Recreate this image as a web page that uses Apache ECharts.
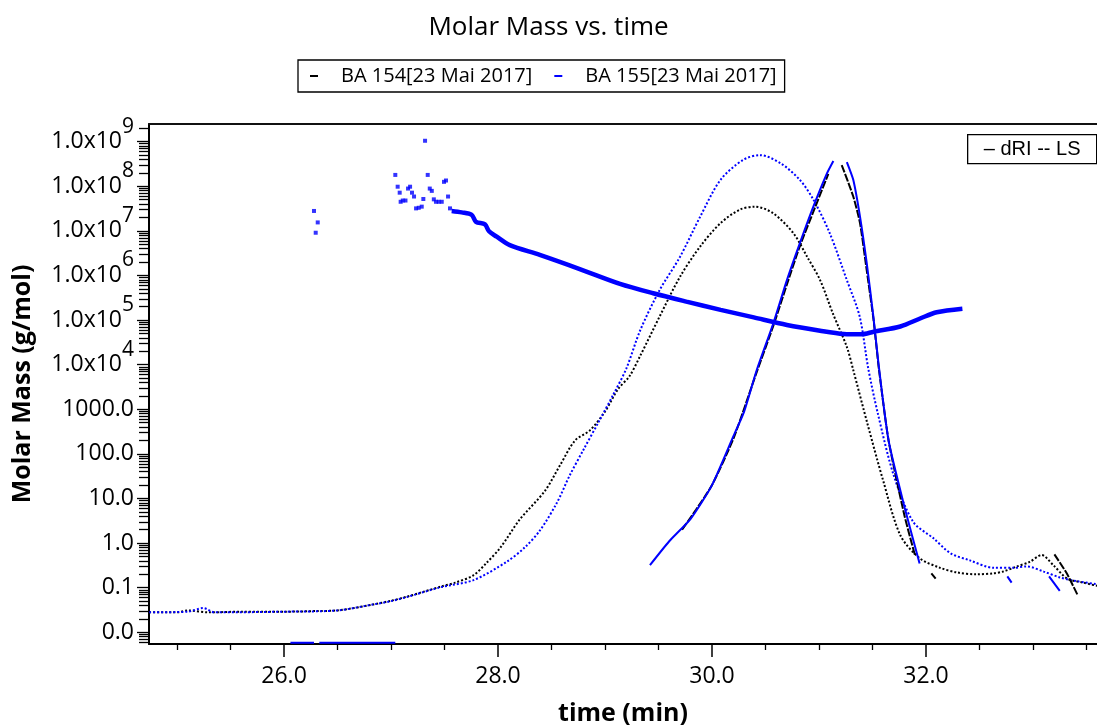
<!DOCTYPE html>
<html>
<head>
<meta charset="utf-8">
<script src="https://cdn.jsdelivr.net/npm/echarts@6/dist/echarts.min.js"></script>
<style>html,body{margin:0;padding:0;background:#fff}#c{width:1097px;height:726px}</style>
</head>
<body>
<div id="c"></div>
<script>
// ---------- axes ----------
const xMin = 24.738, xMax = 33.598;
const yMinLog = -2.262, yMaxLog = 9.397;           // log10 of axis range (g/mol)
const xMajorTicks = [26, 28, 30, 32];
const xMinorTicks = [25, 25.5, 26.5, 27, 27.5, 28.5, 29, 29.5, 30.5, 31, 31.5, 32.5, 33, 33.5];
const yDecades = [-2, -1, 0, 1, 2, 3, 4, 5, 6, 7, 8, 9];

const title = 'Molar Mass vs. time';
const seriesNames = ['BA 154[23 Mai 2017]', 'BA 155[23 Mai 2017]'];

// ---------- data (time in min, values in g/mol) ----------
// dRI trace BA 154 (black dotted)
const dri154T = [24.74, 25.0, 25.1, 25.3, 25.6, 26.0, 26.3, 26.5, 26.83, 27.0, 27.15, 27.46, 27.6, 27.77, 27.89, 28.02, 28.2, 28.44, 28.58, 28.72, 28.86, 29.0, 29.12, 29.23, 29.33, 29.51, 29.7, 29.89, 30.08, 30.26, 30.4, 30.57, 30.76, 30.89, 31.01, 31.13, 31.26, 31.32, 31.45, 31.6, 31.76, 31.94, 32.13, 32.29, 32.47, 32.63, 32.72, 32.85, 32.97, 33.08, 33.19, 33.32, 33.47, 33.6];
const dri154V = [0.028, 0.028, 0.031, 0.028, 0.029, 0.029, 0.030, 0.031, 0.042, 0.051, 0.063, 0.105, 0.13, 0.19, 0.355, 0.78, 3.3, 15, 56, 200, 340, 890, 2800, 5600, 16000, 1.2e5, 9.3e5, 4.5e6, 1.5e7, 3.0e7, 3.5e7, 2.5e7, 8.9e6, 2.6e6, 7.9e5, 1.4e5, 2.5e4, 7600, 500, 25, 1.5, 0.46, 0.28, 0.22, 0.20, 0.21, 0.23, 0.30, 0.38, 0.54, 0.32, 0.16, 0.13, 0.11];
// dRI trace BA 155 (blue dotted)
const dri155T = [24.74, 25.1, 25.245, 25.35, 26.0, 26.5, 26.83, 27.0, 27.15, 27.46, 27.77, 28.08, 28.25, 28.39, 28.55, 28.67, 28.8, 28.95, 29.08, 29.2, 29.33, 29.51, 29.7, 29.89, 30.08, 30.29, 30.45, 30.64, 30.82, 30.95, 31.1, 31.26, 31.38, 31.46, 31.55, 31.7, 31.88, 32.07, 32.23, 32.41, 32.63, 32.82, 32.94, 33.1, 33.25, 33.41, 33.6];
const dri155V = [0.028, 0.029, 0.035, 0.028, 0.029, 0.031, 0.042, 0.05, 0.062, 0.102, 0.148, 0.38, 0.8, 1.9, 8, 33, 126, 575, 2200, 8300, 6.0e4, 4.7e5, 2.6e6, 2.1e7, 1.4e8, 3.9e8, 5.0e8, 3.3e8, 1.4e8, 4.9e7, 8.9e6, 7.9e5, 1.2e5, 8300, 800, 32, 3.0, 1.28, 0.59, 0.41, 0.28, 0.28, 0.30, 0.23, 0.17, 0.14, 0.12];
// LS trace BA 154 (black), null = gap
const ls154T = [29.72, 29.85, 30.0, 30.2, 30.42, 30.57, 30.7, 30.82, 30.95, 31.087, 31.15, 31.212, 31.32, 31.383, 31.446, 31.51, 31.56, 31.65, 31.8, 31.9, 31.98, 32.05, 32.09, 32.5, 33.2, 33.315, 33.42];
const ls154V = [2.0, 5.6, 20, 220, 7100, 7.1e4, 6.3e5, 4.5e6, 2.8e7, 1.9e8, null, 3.0e8, 5.9e7, 1.5e7, 1.3e6, 1.0e5, 7900, 200, 4.0, 0.5, null, 0.21, 0.16, null, 0.56, 0.21, 0.066];
// LS trace BA 155 (blue), null = gap
const ls155T = [29.42, 29.6, 29.8, 30.0, 30.2, 30.3, 30.418, 30.573, 30.7, 30.822, 30.947, 31.072, 31.134, 31.2, 31.26, 31.32, 31.383, 31.446, 31.508, 31.555, 31.65, 31.8, 31.94, 32.3, 32.76, 32.8, 33.0, 33.15, 33.25];
const ls155V = [0.32, 1.1, 3.5, 20, 250, 890, 7600, 8.5e4, 7.9e5, 5.4e6, 3.5e7, 1.9e8, 3.7e8, null, 3.5e8, 1.4e8, 2.1e7, 1.9e6, 1.2e5, 1.1e4, 200, 6.3, 0.35, null, 0.18, 0.13, null, 0.18, 0.085];
// Molar mass BA 155, continuous part (blue squares)
const mm155T = [27.567, 27.66, 27.754, 27.794, 27.878, 27.916, 27.988, 28.11, 28.39, 28.77, 29.14, 29.45, 29.76, 30.08, 30.39, 30.70, 31.01, 31.23, 31.40, 31.51, 31.76, 31.95, 32.1, 32.34];
const mm155V = [2.8e7, 2.6e7, 2.3e7, 1.6e7, 1.4e7, 9.8e6, 7.4e6, 4.8e6, 2.9e6, 1.38e6, 6.5e5, 4.0e5, 2.6e5, 1.7e5, 1.15e5, 7.8e4, 5.8e4, 4.9e4, 4.8e4, 5.5e4, 7.2e4, 1.1e5, 1.5e5, 1.8e5];
// Molar mass BA 155, scattered early points
const mmScatT = [26.280, 26.296, 26.315, 27.04, 27.062, 27.081, 27.09, 27.11, 27.135, 27.159, 27.178, 27.196, 27.215, 27.234, 27.259, 27.287, 27.302, 27.318, 27.343, 27.362, 27.381, 27.40, 27.42, 27.446, 27.474, 27.495, 27.514, 27.533, 27.551];
const mmScatV = [2.8e7, 9.1e6, 1.55e7, 1.8e8, 9.8e7, 7.2e7, 4.5e7, 4.8e7, 4.8e7, 8.9e7, 9.8e7, 7.2e7, 5.9e7, 3.2e7, 3.3e7, 3.5e7, 5.2e7, 1.05e9, 1.8e8, 8.9e7, 7.9e7, 5.1e7, 4.5e7, 4.5e7, 4.5e7, 1.26e8, 1.35e8, 5.9e7, 3.2e7];
// Molar mass values below axis floor (drawn at the floor)
const mmLowT = [26.06, 26.28, null, 26.33, 27.04];
const mmLowV = [0.0058, 0.0058, null, 0.0058, 0.0058];

// ---------- helpers ----------
const toPts = (ts, vs) => ts.map((t, i) => (vs[i] == null || t == null) ? [t == null ? (ts[i-1] + 0.001) : t, '-'] : [t, Math.log10(vs[i])]);

const yMinorTicks = [];
for (let n = -3; n <= 9; n++) {
  for (let k = 2; k <= 9; k++) {
    const v = n + Math.log10(k);
    if (v > yMinLog && v < yMaxLog) yMinorTicks.push(v);
  }
}

const FONT = 'Open Sans';
const fmtY = v => {
  const n = Math.round(v);
  if (n <= 3) return Math.pow(10, n).toFixed(1);
  return '{b|1.0x10}{s|' + n + '}';
};

const chart = echarts.init(document.getElementById('c'), null, {renderer: 'canvas'});
const BLUE = '#0000ff', BLACK = '#000000';

chart.setOption({
  animation: false,
  backgroundColor: '#ffffff',
  title: {
    text: title, left: 'center', top: 10,
    textStyle: {fontFamily: FONT, fontSize: 26, fontWeight: 'normal', color: '#000'}
  },
  legend: {
    top: 60, left: 298, orient: 'horizontal',
    padding: [6, 8, 6, 12], borderColor: '#000', borderWidth: 1.3,
    itemWidth: 8, itemHeight: 2, itemGap: 22, icon: 'rect', selectedMode: false,
    textStyle: {fontFamily: FONT, fontSize: 20, color: '#000', padding: [0, 0, 0, 18]},
    data: [
      {name: seriesNames[0], itemStyle: {color: BLACK}},
      {name: seriesNames[1], itemStyle: {color: BLUE}}
    ]
  },
  grid: {left: 149, right: 0, top: 124, bottom: 82, containLabel: false, outerBoundsMode: 'none'},
  xAxis: [
    {
      type: 'value', min: xMin, max: xMax, position: 'bottom',
      name: 'time (min)', nameLocation: 'middle', nameGap: 57,
      nameTextStyle: {fontFamily: FONT, fontSize: 25, fontWeight: 'bold', color: '#000'},
      axisLine: {show: true, onZero: false, lineStyle: {color: '#000', width: 2}},
      axisTick: {show: true, customValues: xMajorTicks, length: 13, lineStyle: {color: '#000', width: 1.5}},
      axisLabel: {show: true, customValues: xMajorTicks, margin: 21, formatter: v => v.toFixed(1),
        fontFamily: FONT, fontSize: 23, color: '#000'},
      splitLine: {show: false}
    },
    {
      type: 'value', min: xMin, max: xMax, position: 'bottom',
      axisLine: {show: false, onZero: false},
      axisTick: {show: true, customValues: xMinorTicks, length: 6, lineStyle: {color: '#000', width: 1.3}},
      axisLabel: {show: false}, splitLine: {show: false}
    },
    {
      type: 'value', min: xMin, max: xMax, position: 'top',
      axisLine: {show: true, onZero: false, lineStyle: {color: '#111', width: 2}},
      axisTick: {show: false}, axisLabel: {show: false}, splitLine: {show: false}
    }
  ],
  yAxis: [
    {
      type: 'value', min: yMinLog, max: yMaxLog, position: 'left',
      name: 'Molar Mass (g/mol)', nameLocation: 'middle', nameGap: 114,
      nameTextStyle: {fontFamily: FONT, fontSize: 25, fontWeight: 'bold', color: '#000'},
      axisLine: {show: true, onZero: false, lineStyle: {color: '#000', width: 2}},
      axisTick: {show: true, customValues: yDecades, length: 12, lineStyle: {color: '#000', width: 1.3}},
      axisLabel: {
        show: true, customValues: yDecades, margin: 15, formatter: fmtY,
        fontFamily: FONT, fontSize: 23, color: '#000',
        rich: {
          b: {fontFamily: FONT, fontSize: 23, color: '#000', padding: [14, 0, 14, 0], verticalAlign: 'bottom'},
          s: {fontFamily: FONT, fontSize: 21, color: '#000', padding: [0, 0, 30, 0], verticalAlign: 'bottom'}
        }
      },
      splitLine: {show: false}
    },
    {
      type: 'value', min: yMinLog, max: yMaxLog, position: 'left',
      axisLine: {show: false, onZero: false},
      axisTick: {show: true, customValues: yMinorTicks, length: 10, lineStyle: {color: '#000', width: 1.3}},
      axisLabel: {show: false}, splitLine: {show: false}
    }
  ],
  graphic: [
    {
      type: 'group', left: 967, top: 134,
      children: [
        {type: 'rect', shape: {x: 0, y: 0, width: 129, height: 29},
         style: {fill: '#fff', stroke: '#000', lineWidth: 1.3}},
        {type: 'text', x: 64.5, y: 15,
         style: {text: '\u2013 dRI -- LS', fontFamily: 'Liberation Sans', fontSize: 20, fill: '#000',
                 align: 'center', verticalAlign: 'middle'}}
      ]
    }
  ],
  series: [
    {
      name: seriesNames[0], type: 'line', color: BLACK, data: toPts(dri154T, dri154V),
      symbol: 'none', smooth: 0.3, lineStyle: {color: BLACK, width: 2, type: [2, 2]}, z: 2
    },
    {
      name: seriesNames[1], type: 'line', color: BLUE, data: toPts(dri155T, dri155V),
      symbol: 'none', smooth: 0.3, lineStyle: {color: BLUE, width: 2, type: [2, 2]}, z: 2
    },
    {
      name: seriesNames[0], type: 'line', color: BLACK, data: toPts(ls154T, ls154V),
      symbol: 'none', smooth: 0.2, connectNulls: false, lineStyle: {color: BLACK, width: 2, type: [8, 1.5]}, z: 3
    },
    {
      name: seriesNames[1], type: 'line', color: BLUE, data: toPts(ls155T, ls155V),
      symbol: 'none', smooth: 0.2, connectNulls: false, lineStyle: {color: BLUE, width: 2}, z: 4
    },
    {
      name: seriesNames[1], type: 'line', color: BLUE, data: toPts(mm155T, mm155V),
      symbol: 'none', smooth: 0.3, lineStyle: {color: BLUE, width: 4.5}, z: 5
    },
    {
      name: seriesNames[1], type: 'scatter', color: BLUE, data: toPts(mmScatT, mmScatV),
      symbol: 'rect', symbolSize: 4, itemStyle: {color: BLUE}, z: 5
    },
    {
      name: seriesNames[1], type: 'line', color: BLUE, data: toPts(mmLowT, mmLowV),
      symbol: 'none', connectNulls: false, lineStyle: {color: BLUE, width: 2}, z: 5, clip: false
    }
  ]
});
</script>
</body>
</html>
